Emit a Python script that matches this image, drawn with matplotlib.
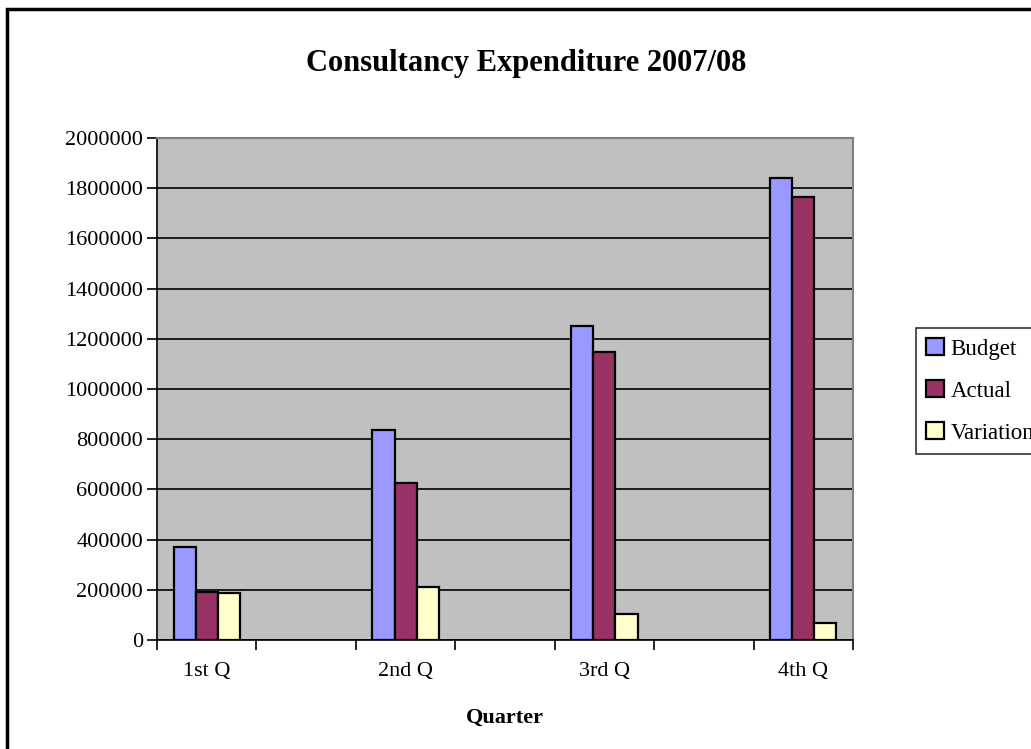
"""Consultancy expenditure by quarter, bar chart."""
import matplotlib
matplotlib.use("Agg")
import matplotlib.pyplot as plt
import numpy as np
from matplotlib.patches import Rectangle

# %%
# data (empty slots between quarters like in the original sheet)
categories = ["1st Q", "", "2nd Q", "", "3rd Q", "", "4th Q"]
budget = [370000, np.nan, 837000, np.nan, 1251000, np.nan, 1839000]
actual = [192000, np.nan, 624000, np.nan, 1146000, np.nan, 1764000]
variation = [187000, np.nan, 212000, np.nan, 102000, np.nan, 69000]
series_names = ["Budget", "Actual", "Variation"]
yticks = np.arange(0, 2000001, 200000)

# %%
plt.rcParams["font.family"] = ["Liberation Serif", "DejaVu Serif"]

W, H = 1031, 749
fig = plt.figure(figsize=(W / 100, H / 100), dpi=100)
ax = fig.add_axes([157 / W, 1 - 640 / H, (853 - 157) / W, (640 - 138) / H])
ax.set_facecolor("#C0C0C0")

x = np.arange(len(categories))
bw = 0.222
colors = ["#9999FF", "#993366", "#FFFFCC"]
for k, (vals, name) in enumerate(zip([budget, actual, variation], series_names)):
    ax.bar(x + (k - 1) * bw, vals, width=bw, color=colors[k],
           edgecolor="black", linewidth=1.6, label=name, zorder=3)

ax.set_xlim(-0.5, len(categories) - 0.5)
ax.set_ylim(0, 2000000)
ax.set_yticks(yticks)
ax.set_yticklabels([str(v) for v in yticks], fontsize=16)
ax.yaxis.grid(True, color="black", linewidth=1.2, zorder=1)

ax.set_xticks(x)
ax.set_xticklabels(categories, fontsize=16)
ax.set_xticks(np.arange(-0.5, len(categories)), minor=True)
ax.tick_params(axis="x", which="major", length=0, pad=16)
ax.tick_params(axis="x", which="minor", length=7, width=1.2, color="black")
ax.tick_params(axis="y", length=7, width=1.2, pad=3)

for side in ["top", "right"]:
    ax.spines[side].set_color("#808080")
    ax.spines[side].set_linewidth(1.5)
for side in ["left", "bottom"]:
    ax.spines[side].set_color("black")
    ax.spines[side].set_linewidth(1.2)

ax.set_xlabel("Quarter", fontsize=16, fontweight="bold", labelpad=19)
fig.text(526 / W, 1 - 64 / H, "Consultancy Expenditure 2007/08",
         ha="center", va="center", fontsize=22, fontweight="bold")

leg = fig.legend(loc="upper left", bbox_to_anchor=(916 / W, 1 - 328 / H),
                 fontsize=16.5, frameon=True, fancybox=False, edgecolor="black",
                 handlelength=0.75, handleheight=0.75, handletextpad=0.3,
                 labelspacing=0.9, borderaxespad=0, borderpad=0.45)
leg.get_frame().set_linewidth(1.2)

# chart border
fig.patches.append(Rectangle((7 / W, -0.05), 1.1, 1 - 9 / H + 0.05,
                             transform=fig.transFigure, fill=False,
                             edgecolor="black", linewidth=2.5))

fig.savefig("out.png", dpi=100)
